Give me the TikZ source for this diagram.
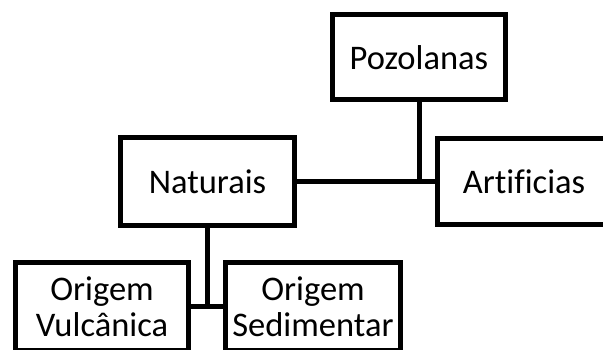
\documentclass[tikz,border=0pt]{standalone}
\usepackage{fontspec}
\setmainfont{Carlito}[Ligatures=NoCommon]
\begin{document}
\begin{tikzpicture}[x=1pt,y=-1pt,
  box/.style={draw=black,line width=5pt,fill=white,inner sep=0pt,
    align=center,font=\fontsize{34.5}{36}\selectfont},
  link/.style={draw=black,line width=5pt}]
\useasboundingbox (0,0) rectangle (603,350);
\clip (0,0) rectangle (603,350);
% top-level box
\node[box,minimum width=173pt,minimum height=85pt] (pz) at (419,57.5) {Pozolanas};
% second level
\node[box,minimum width=174pt,minimum height=88pt] (nat) at (207.5,181.5) {Naturais};
\node[box,minimum width=173pt,minimum height=86pt] (art) at (524,181.5) {Artificias};
% third level
\node[box,minimum width=173pt,minimum height=88pt] (ov) at (102,306.5) {Origem\\Vulcânica};
\node[box,minimum width=175pt,minimum height=88pt] (os) at (313,306.5) {Origem\\Sedimentar};
% connectors
\draw[link] (nat.east) -- (art.west);
\draw[link] (pz.south) -- (pz.south |- nat.east);
\draw[link] (ov.east) -- (os.west);
\draw[link] (nat.south) -- (nat.south |- ov.east);
\end{tikzpicture}
\end{document}
